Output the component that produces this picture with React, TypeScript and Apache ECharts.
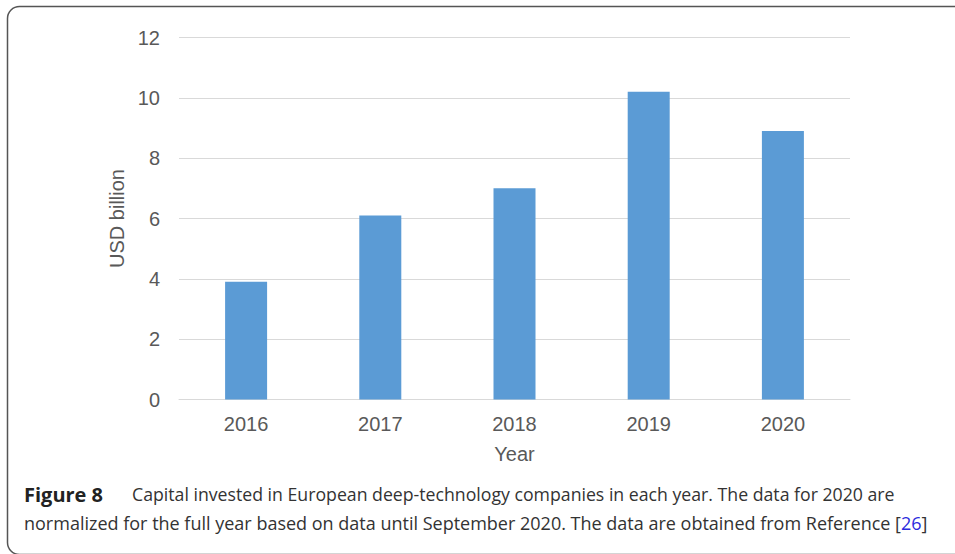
import React, { useEffect, useRef } from "react";
import * as echarts from "echarts";

const categories = ["2016", "2017", "2018", "2019", "2020"];
const values = [3.9, 6.1, 7.0, 10.2, 8.9];
const captionBold = "Figure 8";
const captionLine1 = "Capital invested in European deep-technology companies in each year. The data for 2020 are";
const captionLine2 = "normalized for the full year based on data until September 2020. The data are obtained from Reference ";
const captionRef = "26";

export default function App() {
  const ref = useRef<HTMLDivElement>(null);
  useEffect(() => {
    if (!ref.current) return;
    const chart = echarts.init(ref.current, null, { renderer: "svg" });
    const axisFont = "'Liberation Sans', Arial, sans-serif";
    const capFont = "'Open Sans', 'Noto Sans', sans-serif";
    chart.setOption({
      animation: false,
      backgroundColor: "#ffffff",
      grid: { left: 179, right: 105, top: 37.5, bottom: 154.5, containLabel: false },
      xAxis: {
        type: "category",
        data: categories,
        name: "Year",
        nameLocation: "middle",
        nameGap: 44,
        nameTextStyle: { fontFamily: axisFont, fontSize: 20, color: "#595959" },
        axisLine: { show: true, lineStyle: { color: "#d9d9d9", width: 1 } },
        axisTick: { show: false },
        axisLabel: { fontFamily: axisFont, fontSize: 20, color: "#595959", margin: 14 },
      },
      yAxis: {
        type: "value",
        min: 0,
        max: 12,
        interval: 2,
        name: "USD billion",
        nameLocation: "middle",
        nameGap: 47,
        nameTextStyle: { fontFamily: axisFont, fontSize: 20, color: "#595959" },
        axisLine: { show: false },
        axisTick: { show: false },
        axisLabel: { fontFamily: axisFont, fontSize: 20, color: "#595959", margin: 19 },
        splitLine: { lineStyle: { color: "#d9d9d9", width: 1 } },
      },
      series: [
        {
          type: "bar",
          data: values,
          barWidth: 42,
          itemStyle: { color: "#5b9bd5" },
        },
      ],
      graphic: [
        {
          type: "rect",
          shape: { x: 7.5, y: 6.5, width: 1000, height: 548, r: 12 },
          style: { fill: "none", stroke: "#555555", lineWidth: 1.5 },
          silent: true,
        },
        {
          type: "text",
          x: 24,
          y: 494,
          style: {
            text: captionBold,
            fontFamily: capFont,
            fontWeight: "bold",
            fontSize: 20,
            fill: "#222222",
            verticalAlign: "middle",
          },
        },
        {
          type: "text",
          x: 132,
          y: 494,
          style: {
            text: captionLine1,
            fontFamily: capFont,
            fontSize: 17.7,
            fill: "#333333",
            verticalAlign: "middle",
          },
        },
        {
          type: "text",
          x: 24,
          y: 523,
          style: {
            text: captionLine2 + "[{l|" + captionRef + "}]",
            fontFamily: capFont,
            fontSize: 18,
            fill: "#333333",
            verticalAlign: "middle",
            rich: {
              l: { fontFamily: capFont, fontSize: 18, fill: "#2b2bdd" },
            },
          },
        },
      ],
    });
    return () => chart.dispose();
  }, []);
  return <div ref={ref} style={{ position: "fixed", left: 0, top: 0, width: 955, height: 554 }} />;
}
